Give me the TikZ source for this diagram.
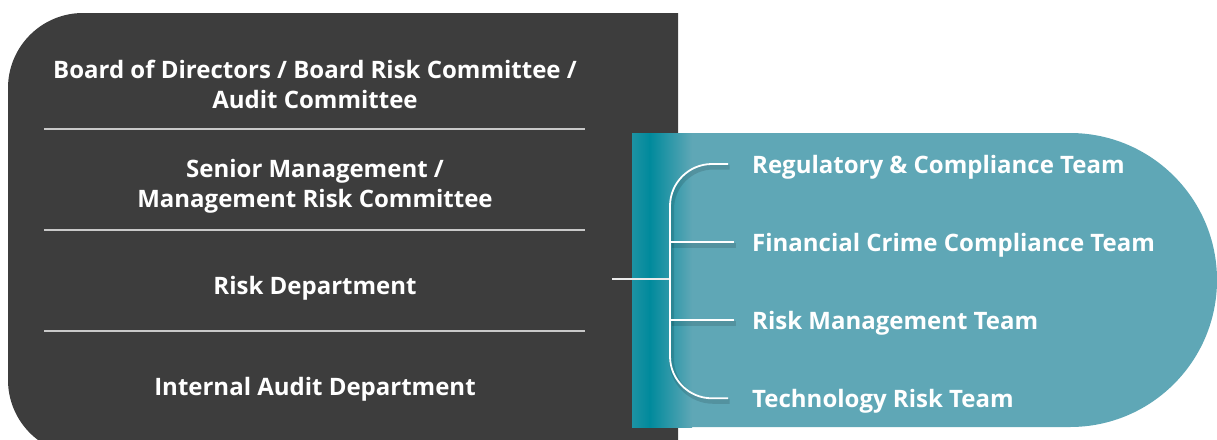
\documentclass[tikz,border=0pt]{standalone}
\usepackage{fontspec}
\setmainfont{Open Sans}
\usepackage{xcolor}
\usetikzlibrary{positioning, calc}
\definecolor{boardgray}{HTML}{3D3D3D}
\definecolor{rulegray}{HTML}{C9C9C9}
\definecolor{teamteal}{HTML}{5FA7B6}
\definecolor{tealdeep}{HTML}{008A9C}
\tikzset{
  x=1pt, y=-1pt,
  levelblock/.style={
    text=white, align=center, inner sep=0pt,
    font=\bfseries\fontsize{24}{30}\selectfont
  },
  teamlabel/.style={
    text=white, inner sep=0pt, text height=22pt, text depth=4pt,
    font=\bfseries\fontsize{24}{26}\selectfont
  },
  sepline/.style={draw=rulegray, line width=1.4pt},
  branchline/.style={
    draw=white, line width=1.8pt,
    preaction={draw=black, opacity=0.12, line width=5pt,
      transform canvas={shift={(1.5pt,-3pt)}}}
  },
  stubline/.style={draw=white!92!black, line width=1.8pt}
}
\begin{document}
\begin{tikzpicture}

  \useasboundingbox (0,0) rectangle (1217,439);
  \clip (0,0) rectangle (1217,439);

  % Left panel: governance levels
  \fill[boardgray] (678,13) -- (400,13) [rounded corners=75] -- (8,13) -- (8,455)
    -- (400,455) [sharp corners] -- (678,455) -- cycle;

  \node[levelblock] (board) at (315,84) {Board of Directors / Board Risk Committee /\\Audit Committee};
  \node[levelblock] (senior) at (315,186) {Senior Management /\\Management Risk Committee};
  \node[levelblock] (riskdept) at (315,288) {Risk Department};
  \node[levelblock] (audit) at (315,389) {Internal Audit Department};

  \coordinate (sepA) at (44,129);
  \coordinate (sepB) at (44,230);
  \coordinate (sepC) at (44,331);
  \draw[sepline] (sepA) -- ++(541,0);
  \draw[sepline] (sepB) -- ++(541,0);
  \draw[sepline] (sepC) -- ++(541,0);

  % Right panel: teams under the risk department
  \fill[teamteal] (632,133) -- (900,133) [rounded corners=147] -- (1217,133) -- (1217,427)
    -- (900,427) [sharp corners] -- (632,427) -- cycle;
  \shade[left color=tealdeep!70!teamteal, right color=tealdeep] (632,133) rectangle (650,427);
  \shade[left color=tealdeep, right color=teamteal] (649.5,133) rectangle (692,427);

  \node[teamlabel, anchor=west] (reg) at (752,164) {Regulatory \& Compliance Team};
  \node[teamlabel, below=51.7pt of reg.south west, anchor=north west] (fincrime) {Financial Crime Compliance Team};
  \node[teamlabel, below=51.7pt of fincrime.south west, anchor=north west] (riskteam) {Risk Management Team};
  \node[teamlabel, below=51.7pt of riskteam.south west, anchor=north west] (techrisk) {Technology Risk Team};

  % Bracket from the risk department to the teams
  \coordinate (stub) at (612,279);
  \coordinate (hub) at (670,279);
  \draw[stubline] (stub) -- (hub);
  \draw[branchline, rounded corners=42] ($(reg.west)+(-24,0)$) -| (hub) |- ($(techrisk.west)+(-24,0)$);
  \draw[branchline] (hub |- fincrime.west) -- ($(fincrime.west)+(-18,0)$);
  \draw[branchline] (hub |- riskteam.west) -- ($(riskteam.west)+(-18,0)$);

\end{tikzpicture}
\end{document}
